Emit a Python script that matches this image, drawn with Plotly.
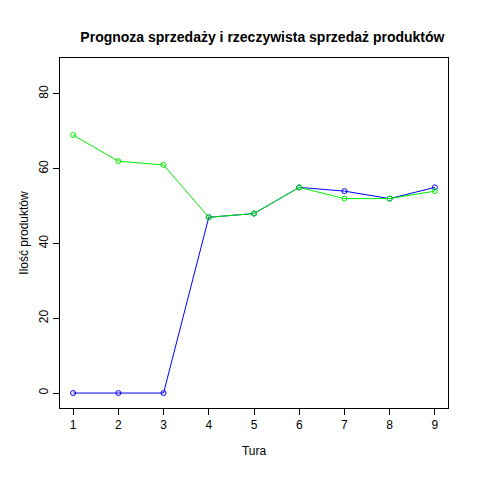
import plotly.graph_objects as go

tura = [1, 2, 3, 4, 5, 6, 7, 8, 9]
rzeczywista = [0, 0, 0, 47, 48, 55, 54, 52, 55]
prognoza = [69, 62, 61, 47, 48, 55, 52, 52, 54]

fig = go.Figure()
fig.add_trace(go.Scatter(x=tura, y=rzeczywista, mode="lines+markers",
    line=dict(color="blue", width=1),
    marker=dict(symbol="circle-open", size=5, color="blue", line=dict(width=1))))
fig.add_trace(go.Scatter(x=tura, y=prognoza, mode="lines+markers",
    line=dict(color="#00ee00", width=1),
    marker=dict(symbol="circle-open", size=5, color="#00ee00", line=dict(width=1))))

ax = dict(showgrid=False, zeroline=False, showline=True, mirror=True, linecolor="black",
          linewidth=1, ticks="outside", ticklen=6, tickcolor="black",
          tickfont=dict(family="Liberation Sans, Arial", size=12, color="black"))
fig.update_layout(
    width=480, height=480, showlegend=False,
    plot_bgcolor="white", paper_bgcolor="white",
    margin=dict(l=52, r=40, t=50, b=80),
    title=dict(text="<b>Prognoza sprzedaży i rzeczywista sprzedaż produktów</b>", x=0.53, y=0.95,
               xanchor="center", font=dict(family="Liberation Sans, Arial", size=14, color="black")),
    xaxis=dict(ax, range=[0.71, 9.29], tickvals=tura,
               title=dict(text="Tura", font=dict(family="Liberation Sans, Arial", size=12, color="black"), standoff=15)),
    yaxis=dict(ax, range=[-4, 89.6], tickvals=[0, 20, 40, 60, 80], tickangle=-90,
               title=dict(text="Ilość produktów", font=dict(family="Liberation Sans, Arial", size=12, color="black"), standoff=6)),
)
fig.write_html("out.html")
